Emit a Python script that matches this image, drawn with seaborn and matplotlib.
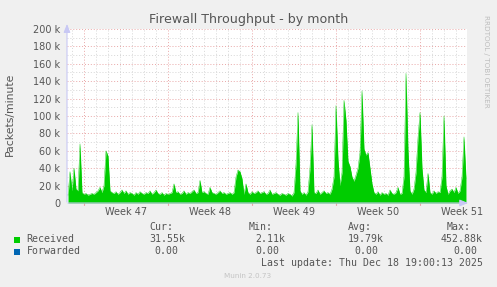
import numpy as np
import pandas as pd
import matplotlib
matplotlib.use("Agg")
import matplotlib.pyplot as plt
import matplotlib.dates as mdates
import seaborn as sns

# ---- data (packets/minute, thousands), 4-hour samples ----
received_k = [
    8, 36, 14, 40, 16, 14, 68,
    12,
    10, 11, 9, 10, 11, 10, 12,
    14, 18, 12,
    20, 60, 54, 14,
    12, 11, 13, 10, 12, 15, 11, 14, 10, 12, 11, 9, 12, 10, 13, 11, 10, 12, 11, 14,
    10, 12, 15, 11, 10, 12, 9, 11, 10, 11,
    12, 22, 12, 13, 10, 11, 14, 10, 12, 11, 13, 15, 11, 12, 26, 12, 13, 11, 10, 18,
    12, 11, 10, 12, 14, 11, 12, 10, 11, 12,
    10, 12, 30, 38, 36, 28, 10, 22, 12, 10, 13, 11,
    12, 14, 11, 12, 13, 10, 11, 15, 10, 11, 12, 10, 9, 11, 10, 9, 11, 10, 8, 12,
    45, 104, 14, 10, 12, 9, 13, 40, 90,
    12, 11, 15, 10, 12, 14, 11, 12, 10, 16,
    30, 112, 50, 20, 35, 118, 95, 48, 42, 30, 25, 32, 40, 58, 129, 62, 55, 58, 40, 22, 12, 10, 13,
    9, 12, 10, 11, 9, 15, 11, 10,
    12, 18, 10, 11, 30, 149, 60, 14,
    10, 16, 35, 75, 104, 40, 15, 12,
    34, 12, 10, 14, 11, 13, 12, 30,
    100, 20, 10, 14, 16, 12, 18, 11, 14, 30,
    76, 28,
]
start_time = "2025-11-15 14:00"
sample_hours = 4
week_starts = ["2025-11-17", "2025-11-24", "2025-12-01", "2025-12-08", "2025-12-15"]
week_labels = ["Week 47", "Week 48", "Week 49", "Week 50", "Week 51"]
ytick_values = [0, 20, 40, 60, 80, 100, 120, 140, 160, 180, 200]
ytick_labels = ["0", "20 k", "40 k", "60 k", "80 k", "100 k", "120 k", "140 k", "160 k", "180 k", "200 k"]
legend_names = ["Received", "Forwarded"]
legend_colors = ["#00CC00", "#0066B3"]
stat_headers = ["Cur:", "Min:", "Avg:", "Max:"]
received_stats = ["31.55k", "2.11k", "19.79k", "452.88k"]
forwarded_stats = ["0.00", "0.00", "0.00", "0.00"]

# ---- figure ----
W, H = 497, 287
fig = plt.figure(figsize=(W / 100, H / 100), dpi=100)
fig.patch.set_facecolor("#F0F0F0")
sns.set_style("white")
plt.rcParams["font.family"] = ["DejaVu Sans"]

def fx(x):
    return x / W

def fy(y):
    return 1 - y / H

L, R, T, B = 67, 467, 29, 203
ax = fig.add_axes([fx(L), fy(B), (R - L) / W, (B - T) / H])
ax.set_facecolor("white")

n = len(received_k)
t0 = pd.Timestamp(start_time)
times = pd.date_range(t0 + pd.Timedelta(hours=sample_hours / 2), periods=n, freq=f"{sample_hours}h")
df = pd.DataFrame({"time": mdates.date2num(times.to_pydatetime()),
                   "value": np.array(received_k, dtype=float) * 1000})

ax.fill_between(df["time"], 0, df["value"], color="#00CC00", linewidth=0, zorder=3)
sns.lineplot(data=df, x="time", y="value", ax=ax, color="#00CC00", linewidth=0.3, zorder=3)

x0 = mdates.date2num(t0)
x1 = mdates.date2num(t0 + pd.Timedelta(hours=sample_hours * n))
ax.set_xlim(x0, x1)
ax.set_ylim(0, 200000)

# grid
grid_minor = "#D6D6D6"
grid_major = "#E9A7A7"
dots = (0, (1, 2))
for v in range(10, 200, 10):
    if v % 20:
        ax.axhline(v * 1000, color=grid_minor, lw=0.7, ls=dots, zorder=1)
for v in ytick_values[1:]:
    ax.axhline(v * 1000, color=grid_major, lw=0.7, ls=dots, zorder=2)
days = pd.date_range(t0.normalize() + pd.Timedelta(days=1), t0 + pd.Timedelta(hours=sample_hours * n), freq="D")
wk = set(pd.to_datetime(week_starts))
for d in days:
    if d not in wk:
        ax.axvline(mdates.date2num(d), color=grid_minor, lw=0.7, ls=dots, zorder=1)
for d in wk:
    ax.axvline(mdates.date2num(d), color=grid_major, lw=0.7, ls=dots, zorder=2)

for s in ax.spines.values():
    s.set_visible(False)
ax.set_xticks([])
ax.set_yticks([v * 1000 for v in ytick_values])
ax.set_yticklabels(ytick_labels)
ax.tick_params(axis="y", length=2, color="#E9A7A7", pad=3, labelsize=7, labelcolor="#555555")
ax.set_xlabel("")
ax.set_ylabel("")

# axis lines with arrows
axis_col = "#C8C8F4"
ax.annotate("", xy=(1.01, 0), xytext=(-0.005, 0), xycoords="axes fraction",
            arrowprops=dict(arrowstyle="-|>,head_width=0.2,head_length=0.5", color=axis_col, lw=0.8),
            annotation_clip=False, zorder=5)
ax.annotate("", xy=(0, 1.045), xytext=(0, -0.01), xycoords="axes fraction",
            arrowprops=dict(arrowstyle="-|>,head_width=0.2,head_length=0.5", color=axis_col, lw=0.8),
            annotation_clip=False, zorder=5)

# week labels
trans = ax.get_xaxis_transform()
for ws, lab in zip(week_starts, week_labels):
    xm = mdates.date2num(pd.Timestamp(ws) + pd.Timedelta(hours=84))
    ax.text(xm, -0.05, lab, transform=trans, ha="center", va="center", fontsize=7, color="#555555")
    ax.plot([mdates.date2num(pd.Timestamp(ws))] * 2, [0, -0.012], transform=trans,
            color="#E9A7A7", lw=0.8, clip_on=False)

# texts
fig.text(fx(248.5), fy(19), "Firewall Throughput - by month", ha="center", va="center",
         fontsize=9.1, color="#555555")
fig.text(fx(10), fy(114), "Packets/minute", rotation=90, ha="center", va="center",
         fontsize=7.8, color="#555555")
fig.text(fx(486), fy(61), "RRDTOOL / TOBI OETIKER", rotation=270, ha="center", va="center",
         fontsize=5.2, color="#BDBDBD")

mono = "DejaVu Sans Mono"
fs = 7.1
tc = "#555555"
for hx, h in zip([149, 249, 348, 447], stat_headers):
    fig.text(fx(hx), fy(227), h, ha="left", va="center", family=mono, fontsize=fs, color=tc)
rows_y = [239.5, 251.5]
for name, col, ry in zip(legend_names, legend_colors, rows_y):
    fig.patches.append(plt.Rectangle((fx(14), fy(ry + 3)), 6 / W, 6 / H, transform=fig.transFigure,
                                     facecolor=col, edgecolor="none"))
    fig.text(fx(26.5), fy(ry), name, ha="left", va="center", family=mono, fontsize=fs, color=tc)
for rx, v in zip([185, 285, 383.5, 483], received_stats):
    fig.text(fx(rx), fy(rows_y[0]), v, ha="right", va="center", family=mono, fontsize=fs, color=tc)
for rx, v in zip([178.5, 279, 378, 477], forwarded_stats):
    fig.text(fx(rx), fy(rows_y[1]), v, ha="right", va="center", family=mono, fontsize=fs, color=tc)
fig.text(fx(483), fy(263.5), "Last update: Thu Dec 18 19:00:13 2025", ha="right", va="center",
         family=mono, fontsize=fs, color=tc)
fig.text(fx(248), fy(276), "Munin 2.0.73", ha="center", va="center", fontsize=5.2, color="#C4C4C4")

fig.savefig("out.png", dpi=100, facecolor=fig.get_facecolor())
